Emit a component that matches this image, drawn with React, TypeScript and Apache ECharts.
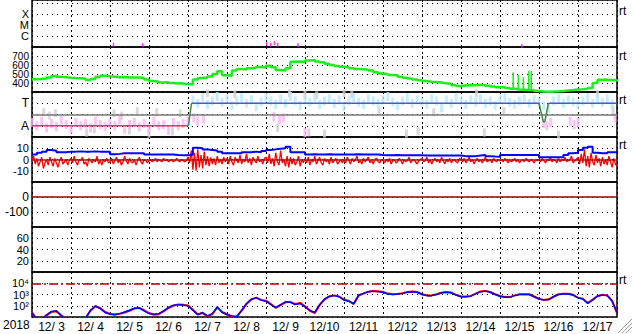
import React, { useEffect, useRef } from 'react';
import * as echarts from 'echarts';

// ---------- data ----------
const dayLabels = ['12/ 3', '12/ 4', '12/ 5', '12/ 6', '12/ 7', '12/ 8', '12/ 9', '12/10', '12/11', '12/12', '12/13', '12/14', '12/15', '12/16', '12/17'];
const yearLabel = '2018';

// X-ray (log10 W/m2) short marks
const xrayDays = [2.09, 2.84, 6.02, 6.12, 6.22, 6.3, 6.82, 12.56];
const xrayLog = [-6.8, -6.85, -6.7, -6.8, -6.65, -6.8, -6.85, -6.9];
const xrayClassLabels: Record<string, string> = { '-6': 'C', '-5': 'M', '-4': 'X' };

// Solar wind speed, 3-hour samples from 12/3 00:00
const speedStep = 0.125;
const speed = [
  441, 445, 450, 462, 478, 470, 465, 459,
  455, 452, 448, 432, 445, 470, 481, 475,
  470, 463, 466, 462, 460, 462, 456, 440,
  422, 415, 405, 408, 400, 395, 398, 390,
  386, 440, 455, 462, 472, 500, 530, 485,
  480, 540, 556, 550, 563, 570, 578, 572,
  592, 575, 545, 538, 565, 637, 640, 635,
  650, 656, 640, 630, 615, 600, 590, 580,
  575, 565, 556, 552, 548, 540, 520, 505,
  498, 490, 485, 470, 458, 450, 438, 430,
  422, 415, 412, 405, 398, 392, 375, 366,
  372, 378, 376, 378, 378, 370, 360, 352,
  355, 345, 335, 328, 325, 322, 320, 312,
  305, 303, 305, 308, 312, 318, 322, 328,
  330, 335, 345, 400, 435, 440, 432, 430,
  418,
];
const speedSpikeDays = [12.34, 12.47, 12.6, 12.74, 12.8];
const speedSpikeTops = [518, 489, 463, 533, 533];
const speedSpikeBase = [326, 325, 324, 322, 322];

// Magnetic sector (T = +1, A = -1)
const sectorLabels: Record<string, string> = { '1': 'T', '-1': 'A' };
const awayLine = [[0, -1], [4.01, -1]];
const towardLine = [[4.09, 1], [13.0, 1], null, [13.24, 1], [15, 1]];
const transitionLine = [[4.01, -1], [4.09, 1], null, [13.0, 1], [13.11, -0.64], [13.15, -0.64], [13.24, 1]];
const towardCloudStart = 4.125;
const towardCloud = [
  1.3, 1.0, 1.5, 0.9, 1.2, 1.6, 1.1,
  1.4, 0.8, 1.2, 1.5, 1.0, 1.3, 0.7, 1.1,
  1.5, 1.2, 0.9, 1.4, 1.0, 1.6, 1.2, 0.8,
  1.3, 1.1, 1.5, 0.9, 1.2, 1.4, 1.0, 1.3,
  0.7, 1.2, 1.5, 1.1, 0.9, 1.4, 1.2, 1.0,
  1.3, 1.6, 1.1, 0.8, 1.2, 1.5, 1.0, 1.3,
  1.1, 0.9, 1.4, 1.2, 0.6, 1.3, 1.0, 1.5,
  1.2, 0.9, 1.3, 1.1, 1.4, 1.0, 1.2, 0.8,
  1.3, 1.5, 1.1, 0.9, 1.2, 1.4, 1.0, 1.3,
  1.1, 0.8, 0.5, 1.2, 1.4, 1.0, 1.3, 1.1,
  0.9, 1.2, 1.5, 1.0, 1.3, 1.1, 1.4, 0.9,
];
const awayCloud = [
  -0.7, -1.0, -0.6, -1.2, -0.8, -1.1, -0.5, -0.9,
  -1.3, -0.7, -1.0, -0.8, -1.2, -0.6, -0.9, -1.1,
  -0.8, -1.0, -0.5, -1.3, -0.9, -0.7, -1.1, -0.8,
  -1.2, -0.6, -1.0, -0.9, -1.4, -0.7, -1.0, -0.8,
  -0.6,
];
const awayExtra = [[4.15, -0.3], [4.25, -0.6], [4.4, -0.4], [6.2, -0.2], [6.35, -0.5], [6.45, -0.3], [7.0, -1.6], [13.12, -0.8], [13.2, -1.0], [13.3, -0.7], [13.8, -0.6], [13.9, -0.9], [14.0, -0.7], [14.95, -0.3]];
const grayPoints = [[0.3, 0.2], [0.45, -0.1], [0.6, 0.1], [1.4, -1.6], [1.6, -1.3], [2.1, 0.1], [2.3, -0.1], [2.5, -1.4], [2.7, 0.3], [3.0, -1.7], [3.2, 0.2], [3.6, -1.5], [3.8, 0.1], [4.5, 1.9], [5.2, 1.8], [6.3, -1.2], [6.6, 1.9], [7.0, 1.8], [7.1, -1.6], [7.3, 1.7], [7.5, -1.7], [8.0, 1.9], [8.2, 1.8], [8.9, 0.3], [9.6, -1.7], [9.9, -1.5], [10.3, 0.2], [11.4, 1.9], [11.6, -1.6], [12.1, 0.3], [13.5, -1.8], [14.5, 1.8], [14.9, 0.4]];

// IMF Bt (3-hour) and Bz (1-hour), nT
const btStep = 0.125;
const bt = [
  4.5, 6.0, 7.0, 8.4, 7.8, 6.4, 6.5, 7.0,
  7.0, 7.2, 7.0, 7.0, 7.2, 7.0, 7.0, 6.8,
  4.6, 5.0, 5.5, 5.5, 5.6, 5.5, 5.5, 4.5,
  4.4, 4.4, 4.5, 4.4, 4.4, 4.0, 3.8, 3.8,
  4.2, 10.5, 10.0, 9.0, 8.5, 8.0, 7.0, 5.5,
  5.5, 5.5, 5.6, 6.5, 6.5, 7.0, 6.5, 7.5,
  8.5, 9.0, 9.5, 10.0, 11.4, 6.4, 6.4, 6.4,
  4.5, 4.6, 4.5, 4.5, 4.6, 4.5, 4.5, 4.5,
  4.5, 4.5, 4.6, 4.5, 4.5, 4.5, 4.4, 4.0,
  3.8, 3.8, 3.9, 3.8, 3.8, 3.8, 3.8, 3.8,
  3.5, 3.5, 3.6, 3.5, 3.5, 3.5, 3.5, 3.5,
  3.0, 3.0, 3.0, 3.5, 4.0, 3.0, 2.6, 2.5,
  4.0, 4.0, 4.1, 4.0, 4.0, 4.0, 4.0, 4.0,
  2.0, 2.0, 2.0, 2.0, 2.0, 4.0, 5.5, 6.0,
  8.5, 10.5, 11.4, 6.0, 5.5, 5.5, 6.5, 6.5,
  8.0,
];
const bzStep = 1 / 24;
const bz = [
  -1, 3, -4, 1, -6, -2, 2, -8, -3, 0, -5, 2, -2, -6, 1, -3, -7, -1, 2, -4, -2, 0, -5, -1,
  1, -3, 3, -2, -5, 0, -1, 2, -4, -2, -6, 1, -1, -3, 0, -2, 3, -4, -1, -5, 0, -2, 1, -3,
  -2, 1, -4, -1, 2, -3, 0, -5, -2, 3, -1, -4, 1, -2, -3, 0, -5, -1, 2, -2, -4, 0, -1, -3,
  -1, 0, -2, -1, 1, -2, 0, -1, -2, 1, -1, 0, -2, -1, 0, -2, -1, 1, -1, -2, 0, -1, -2, -1,
  2, -3, 8, -9, 6, -10, 9, -7, 4, -8, 7, -5, 3, -6, 2, -4, 1, -5, 3, -3, 0, -4, 2, -2,
  1, -4, 3, -2, -5, 2, -1, -3, 4, -4, 0, -2, 5, -3, 1, -5, 2, -1, -3, 3, -2, 0, -4, 1,
  2, -3, 5, -4, 1, -6, 6, -2, -5, 8, -3, 0, -6, 3, -7, 2, -4, 1, -5, -2, 3, -6, 0, -3,
  1, -3, 2, -5, 0, -2, 3, -4, -1, 2, -3, -5, 1, -2, 0, -4, 2, -3, -1, 1, -4, -2, 0, -3,
  0, -3, 2, -1, -4, 1, -2, 0, 3, -3, -1, -4, 1, -2, 0, 2, -3, -1, -4, 0, 1, -2, -3, 0,
  -1, -3, 0, -2, 1, -4, -1, 0, -3, -2, 1, -1, -4, 0, -2, -1, 2, -3, -1, 0, -2, -4, -1, 0,
  1, -2, -1, 2, -3, 0, -4, -1, 1, -2, 0, -3, 2, -1, -4, 0, -2, 1, -3, -1, 0, -2, -3, 1,
  0, -2, 1, -3, -1, 2, -2, 0, -4, -1, 1, -2, 0, -3, -1, 2, -2, -1, 0, -3, 1, -1, -2, 0,
  -1, 0, -2, 1, -1, -3, 0, -2, -1, 1, -2, 0, -3, -1, 0, -2, 1, -1, -2, 0, -1, -3, 0, -1,
  0, -2, 1, -1, -3, 0, -1, 2, -2, 0, -1, -3, 1, -2, 0, -1, 2, -2, -1, 0, 3, -3, -1, 0,
  2, -4, 5, -3, 9, -6, 3, -7, 6, -2, -5, 4, -3, 1, -6, 2, -4, 0, -5, 3, -2, -7, 1, -4,
  -6,
];

// Proton flux, log10, 3-hour samples
const protonStep = 0.125;
const protonBlue = [
  1.35, 0.8, 0.8, 1.2, 1.5, 1.55, 1.1, 0.8,
  0.8, 0.8, 0.8, 0.9, 1.6, 1.98, 1.75, 1.4,
  1.25, 1.2, 1.3, 1.45, 1.6, 1.78, 1.8, 1.55,
  1.3, 1.25, 1.3, 1.55, 1.85, 2.05, 2.1, 2.05,
  2.0, 1.6, 1.2, 1.4, 1.1, 1.3, 1.9, 1.4,
  1.2, 1.1, 1.0, 1.6, 2.2, 2.6, 2.7, 2.5,
  2.4, 2.1, 1.85, 2.1, 2.35, 2.3, 2.1, 2.2,
  1.9, 1.6, 1.4, 2.1, 2.6, 2.85, 2.9, 2.8,
  2.5, 2.4, 2.2, 2.95, 3.1, 3.25, 3.3, 3.25,
  3.2, 3.05, 3.0, 3.05, 3.1, 3.2, 3.25, 3.2,
  3.0, 2.9, 2.9, 3.0, 3.15, 3.2, 3.15, 2.95,
  2.8, 2.8, 2.85, 3.05, 3.25, 3.3, 3.2, 3.0,
  2.85, 2.75, 2.75, 2.9, 3.0, 3.0, 3.0, 2.8,
  2.6, 2.5, 2.55, 2.8, 3.0, 3.05, 3.05, 2.95,
  2.7, 2.6, 2.2, 2.5, 2.85, 2.95, 2.9, 2.4,
  1.4,
];
const protonRed = [
  1.4, 0.8, 0.8, 1.15, 1.45, 1.5, 1.15, 0.8,
  0.8, 0.8, 0.8, 0.9, 1.55, 1.95, 1.8, 1.45,
  1.3, 1.22, 1.28, 1.4, 1.55, 1.75, 1.82, 1.6,
  1.35, 1.2, 1.25, 1.5, 1.8, 2.0, 2.12, 2.08,
  2.02, 1.65, 1.25, 1.35, 1.05, 1.25, 1.85, 1.45,
  1.25, 1.05, 1.05, 1.55, 2.15, 2.55, 2.72, 2.52,
  2.45, 2.15, 1.8, 2.05, 2.3, 2.35, 2.15, 2.25,
  1.95, 1.55, 1.35, 2.05, 2.55, 2.82, 2.92, 2.82,
  2.55, 2.42, 2.15, 2.9, 3.08, 3.25, 3.32, 3.28,
  3.22, 3.08, 3.02, 3.05, 3.12, 3.22, 3.27, 3.22,
  3.02, 2.92, 2.92, 3.02, 3.15, 3.22, 3.17, 2.97,
  2.82, 2.82, 2.87, 3.07, 3.27, 3.32, 3.22, 3.02,
  2.87, 2.77, 2.77, 2.92, 3.02, 3.02, 3.02, 2.82,
  2.62, 2.52, 2.57, 2.82, 3.02, 3.07, 3.07, 2.97,
  2.72, 2.62, 2.25, 2.55, 2.87, 2.97, 2.92, 2.45,
  1.35,
];
const protonLabels: Record<string, string> = { '4': '10\u2074', '3': '10\u00b3', '2': '10\u00b2' };
const protonThreshold = 4;

// ---------- layout ----------
const LEFT = 32;
const RIGHT = 16;
const panelTops = [-1, 47, 92, 137, 182, 227, 272];
const panelHeights = [48, 45, 45, 45, 45, 45, 45];
const FONT = 'Liberation Sans, Arial, sans-serif';

const toPairs = (vals: number[], step: number, start = 0) => vals.map((v, i) => [start + i * step, v]);

const hline = (y: number, color: string, type: any, width: number) => ({
  silent: true,
  symbol: 'none',
  label: { show: false },
  emphasis: { disabled: true },
  lineStyle: { color, type, width },
  data: [{ yAxis: y }],
});

function buildOption() {
  const grids = panelTops.map((t, i) => ({
    left: LEFT,
    right: RIGHT,
    top: t,
    height: panelHeights[i],
    show: true,
    borderColor: '#000',
    borderWidth: 1.5,
    backgroundColor: 'transparent',
  }));

  const xAxes: any[] = panelTops.map((_, i) => ({
    type: 'value',
    gridIndex: i,
    min: 0,
    max: 15,
    interval: 1,
    axisLine: { show: false },
    axisTick: { show: false },
    axisLabel: { show: false },
    splitLine: { show: true, lineStyle: { color: '#000', type: [2, 3], width: 1 } },
  }));
  xAxes.push({
    type: 'category',
    gridIndex: 6,
    data: dayLabels,
    boundaryGap: true,
    position: 'bottom',
    axisLine: { show: false },
    axisTick: { show: false },
    splitLine: { show: false },
    axisLabel: { interval: 0, color: '#000', fontSize: 12, fontFamily: FONT, margin: 4 },
  });

  const dotted = { show: true, lineStyle: { color: '#000', type: [1, 4], width: 1 } };
  const yBase = (i: number, min: number, max: number, interval: number, fmt: (v: number) => string, fontSize = 11, lineHeight = 10) => ({
    type: 'value',
    gridIndex: i,
    min,
    max,
    interval,
    axisLine: { show: false },
    axisTick: { show: false },
    splitLine: dotted,
    axisLabel: { color: '#000', fontSize, lineHeight, fontFamily: FONT, margin: 3, formatter: fmt, showMinLabel: true, showMaxLabel: true },
  });

  const yAxes = [
    yBase(0, -7, -2.733, 1, (v) => (Math.abs(v - Math.round(v)) < 1e-6 && xrayClassLabels[String(Math.round(v))]) || ''),
    yBase(1, 300, 800, 100, (v) => (v >= 400 && v <= 700 ? String(v) : ''), 10, 8),
    yBase(2, -2, 2, 1, (v) => sectorLabels[String(v)] || '', 12, 10),
    yBase(3, -20, 20, 10, (v) => (Math.abs(v) <= 10 ? String(v) : '')),
    yBase(4, -200, 100, 100, (v) => (v === 0 || v === -100 ? String(v) : ''), 12, 12),
    yBase(5, 0, 80, 20, (v) => (v >= 20 && v <= 60 ? String(v) : '')),
    yBase(6, 1, 5, 1, (v) => protonLabels[String(v)] || ''),
  ];

  const spikeData: any[] = [];
  speedSpikeDays.forEach((d, i) => {
    spikeData.push([d - 0.004, speedSpikeBase[i]], [d, speedSpikeTops[i]], [d + 0.004, speedSpikeBase[i]], null);
  });

  const series: any[] = [
    {
      type: 'scatter', xAxisIndex: 0, yAxisIndex: 0,
      symbol: 'rect', symbolSize: [1.5, 4],
      itemStyle: { color: '#ff00ff' },
      data: xrayDays.map((d, i) => [d, xrayLog[i]]),
    },
    {
      type: 'line', xAxisIndex: 1, yAxisIndex: 1, showSymbol: false, symbol: 'none', step: 'end',
      lineStyle: { color: '#1eee1e', width: 2.5 },
      data: toPairs(speed, speedStep),
    },
    {
      type: 'line', xAxisIndex: 1, yAxisIndex: 1, showSymbol: false, symbol: 'none', connectNulls: false,
      lineStyle: { color: '#1eee1e', width: 1.5 },
      data: spikeData,
    },
    {
      type: 'scatter', xAxisIndex: 2, yAxisIndex: 2, symbol: 'rect', symbolSize: [3, 8],
      itemStyle: { color: '#cfcfcf' }, data: grayPoints,
    },
    {
      type: 'scatter', xAxisIndex: 2, yAxisIndex: 2, symbol: 'rect', symbolSize: [3, 9],
      itemStyle: { color: '#f6b6f2' }, data: toPairs(awayCloud, 0.125).concat(awayExtra),
    },
    {
      type: 'scatter', xAxisIndex: 2, yAxisIndex: 2, symbol: 'rect', symbolSize: [3, 9],
      itemStyle: { color: '#b6eafc' }, data: toPairs(towardCloud, 0.125, towardCloudStart),
    },
    {
      type: 'line', xAxisIndex: 2, yAxisIndex: 2, symbol: 'none', data: [],
      markLine: hline(0, '#7a7a7a', 'solid', 1.5),
    },
    {
      type: 'line', xAxisIndex: 2, yAxisIndex: 2, symbol: 'none', lineStyle: { color: '#e03c3c', width: 1.5 }, data: awayLine,
    },
    {
      type: 'line', xAxisIndex: 2, yAxisIndex: 2, symbol: 'none', connectNulls: false, lineStyle: { color: '#4a56d8', width: 1.5 }, data: towardLine,
    },
    {
      type: 'line', xAxisIndex: 2, yAxisIndex: 2, symbol: 'none', connectNulls: false, lineStyle: { color: '#3e8a3e', width: 1.5 }, data: transitionLine,
    },
    {
      type: 'line', xAxisIndex: 3, yAxisIndex: 3, symbol: 'none', data: [],
      markLine: hline(0, '#b01010', 'solid', 1.5),
    },
    {
      type: 'line', xAxisIndex: 3, yAxisIndex: 3, symbol: 'none', lineStyle: { color: '#ff0000', width: 1.3 }, data: toPairs(bz, bzStep),
    },
    {
      type: 'line', xAxisIndex: 3, yAxisIndex: 3, symbol: 'none', step: 'end', lineStyle: { color: '#0000ff', width: 2 }, data: toPairs(bt, btStep),
    },
    {
      type: 'line', xAxisIndex: 4, yAxisIndex: 4, symbol: 'none', data: [],
      markLine: hline(0, '#a00000', 'solid', 1.5),
    },
    {
      type: 'line', xAxisIndex: 6, yAxisIndex: 6, symbol: 'none', data: [],
      markLine: hline(protonThreshold, '#b00000', [9, 3, 2, 3], 1.5),
    },
    {
      type: 'line', xAxisIndex: 6, yAxisIndex: 6, symbol: 'none', lineStyle: { color: '#ff0000', width: 2 }, data: toPairs(protonRed, protonStep),
    },
    {
      type: 'line', xAxisIndex: 6, yAxisIndex: 6, symbol: 'none', lineStyle: { color: '#0000ff', width: 1.5 }, data: toPairs(protonBlue, protonStep),
    },
  ];

  const rtTops = [5, 50, 94, 139, 274];
  const graphic: any[] = rtTops.map((t) => ({
    type: 'text', left: 619, top: t, silent: true,
    style: { text: 'rt', fill: '#000', fontSize: 12, fontFamily: FONT },
  }));
  graphic.push({
    type: 'text', left: 3, top: 319, silent: true,
    style: { text: yearLabel, fill: '#000', fontSize: 12, fontFamily: FONT },
  });
  [[618, 333, 632, 319], [622, 333, 632, 323], [626, 333, 632, 327]].forEach((s) => {
    graphic.push({ type: 'line', silent: true, shape: { x1: s[0], y1: s[1], x2: s[2], y2: s[3] }, style: { stroke: '#9a9a9a', lineWidth: 1 } });
    graphic.push({ type: 'line', silent: true, shape: { x1: s[0] + 1, y1: s[1], x2: s[2], y2: s[3] + 1 }, style: { stroke: '#ffffff', lineWidth: 1 } });
  });

  return {
    animation: false,
    backgroundColor: '#fff',
    grid: grids,
    xAxis: xAxes,
    yAxis: yAxes,
    series,
    graphic,
  };
}

export default function App() {
  const ref = useRef<HTMLDivElement>(null);
  useEffect(() => {
    if (!ref.current) return;
    const chart = echarts.init(ref.current, null, { renderer: 'svg' });
    chart.setOption(buildOption() as any);
    return () => chart.dispose();
  }, []);
  return <div ref={ref} style={{ position: 'fixed', left: 0, top: 0, width: 633, height: 334 }} />;
}
